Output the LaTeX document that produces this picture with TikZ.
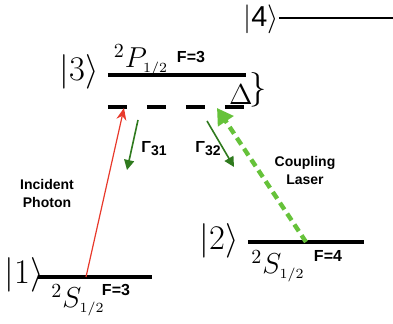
\documentclass[tikz,border=0pt]{standalone}
\usepackage{fontspec}
\setsansfont{Liberation Sans}
\usetikzlibrary{arrows.meta}

\definecolor{photonred}{HTML}{E8392B}
\definecolor{laser}{HTML}{66C23A}
\definecolor{decaygreen}{HTML}{2F7A1E}

\tikzset{
    level/.style={line width=1.6pt},
    ket/.style={font=\LARGE},
    term/.style={font=\Large},
    hfs/.style={font=\sffamily\bfseries\footnotesize},
    lbl/.style={font=\sffamily\bfseries\scriptsize, align=center},
    decay/.style={draw=decaygreen, line width=0.8pt, -{Triangle[length=5pt,width=5pt]}},
}

\begin{document}
\begin{tikzpicture}[x=0.5pt, y=-0.5pt]
    \useasboundingbox (0,0) rectangle (393,324);

    % levels
    \coordinate (l4a) at (279,18);  \coordinate (l4b) at (393,18);
    \coordinate (l3a) at (108,75);  \coordinate (l3b) at (246,75);
    \coordinate (d3a) at (108,107); \coordinate (d3b) at (245,107);
    \coordinate (l2a) at (248,242); \coordinate (l2b) at (364,242);
    \coordinate (l1a) at (38,277);  \coordinate (l1b) at (152,277);

    \draw[level, line width=1.2pt] (l4a) -- (l4b);
    \draw[level] (l3a) -- (l3b);
    \draw[level, dash pattern=on 9.5pt off 10pt] (d3a) -- (d3b);
    \draw[level] (l2a) -- (l2b);
    \draw[level] (l1a) -- (l1b);

    % kets
    \node[font=\Large, inner sep=0pt, anchor=east] (ket4) at (279,19) {$|\mathsf{4}\rangle$};
    \node[ket] (ket3) at (79,72) {$|3\rangle$};
    \node[ket] (ket2) at (219,241) {$|2\rangle$};
    \node[ket] (ket1) at (24,275) {$|1\rangle$};

    % term symbols
    \node[term] (p12) at (141,60) {$^2P_{\scriptscriptstyle 1/2}$};
    \node[hfs] (f3up) at (191,57) {F=3};
    \node[term] (s12a) at (78,300) {$^2S_{\scriptscriptstyle 1/2}$};
    \node[hfs] (f3lo) at (116,290) {F=3};
    \node[term] (s12b) at (278,266) {$^2S_{\scriptscriptstyle 1/2}$};
    \node[hfs] (f4) at (328,256) {F=4};

    % detuning
    \node[font=\Large, inner sep=0pt] (delta) at (241,95) {$\Delta$};
    \node[font=\LARGE, inner sep=0pt] (brace) at (258,90) {$\}$};

    % transitions
    \coordinate (p1) at (86,277);
    \coordinate (p3) at (124,108);
    \draw[photonred, line width=0.6pt, -{Stealth[length=6pt,width=5pt]}] (p1) -- (p3);
    \node[lbl] (photon) at (47,194) {Incident\\[1pt]Photon};

    \coordinate (q2) at (306,242);
    \coordinate (q3) at (217,108);
    \draw[laser, line width=2.2pt, dash pattern=on 4pt off 2.5pt,
          -{Triangle[length=8pt,width=9pt]}] (q2) -- (q3);
    \node[lbl] (coupling) at (305,171) {Coupling\\[1pt]Laser};

    \coordinate (g31a) at (138,120); \coordinate (g31b) at (127,170);
    \coordinate (g32a) at (207,121); \coordinate (g32b) at (234,167);
    \draw[decay] (g31a) -- (g31b);
    \draw[decay] (g32a) -- (g32b);
    \node[lbl] (gam31) at (154,149) {{\footnotesize Γ}\raisebox{-1.5pt}{31}};
    \node[lbl] (gam32) at (208,149) {{\footnotesize Γ}\raisebox{-1.5pt}{32}};
\end{tikzpicture}
\end{document}
